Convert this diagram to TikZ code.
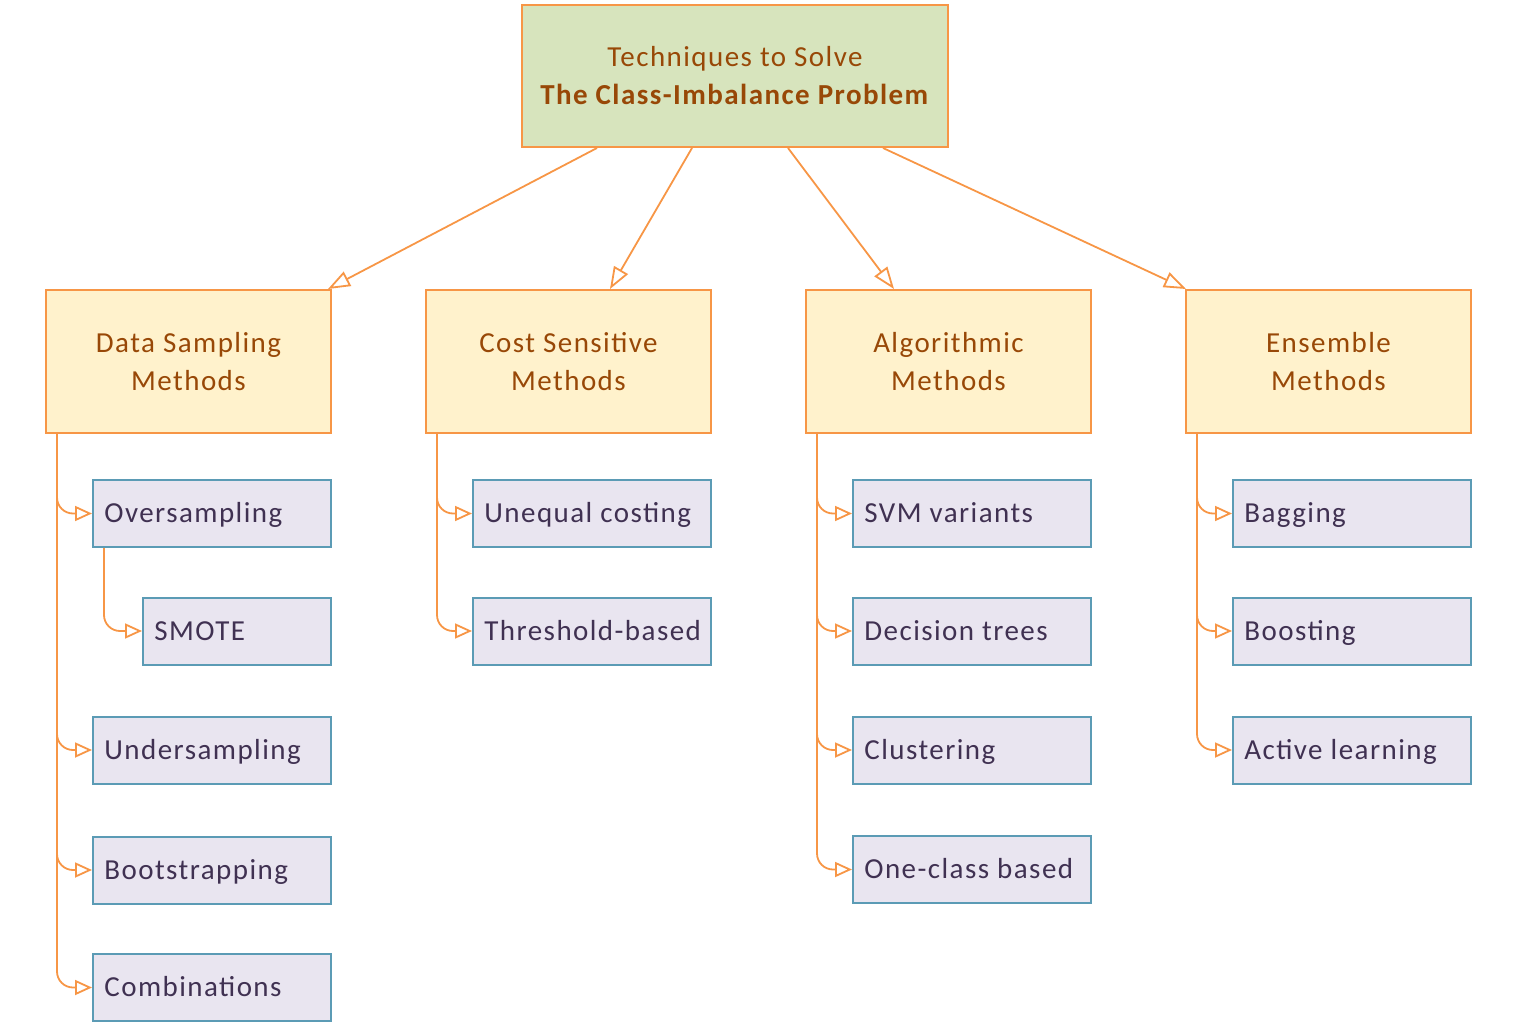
\documentclass[tikz,border=0pt]{standalone}
\usepackage{fontspec}
\setmainfont{Carlito}[LetterSpace=5]
\usetikzlibrary{arrows.meta,calc}
\definecolor{edgeor}{HTML}{F79646}
\definecolor{topfill}{HTML}{D7E4BD}
\definecolor{midfill}{HTML}{FFF2CC}
\definecolor{leaffill}{HTML}{E9E5F0}
\definecolor{leafedge}{HTML}{5B9BB5}
\definecolor{browntext}{HTML}{984807}
\definecolor{leaftext}{HTML}{403152}
\tikzset{
  topbox/.style={draw=edgeor, line width=1pt, fill=topfill, minimum width=213pt, minimum height=71pt,
    inner sep=0pt, align=center, text=browntext, font=\fontsize{14.5}{19}\selectfont},
  midbox/.style={draw=edgeor, line width=1pt, fill=midfill, minimum width=142.5pt, minimum height=71.5pt,
    inner sep=0pt, align=center, text=browntext, font=\fontsize{14.5}{19}\selectfont},
  leafbox/.style={draw=leafedge, line width=1pt, fill=leaffill, minimum width=119pt, minimum height=33.5pt,
    inner sep=0pt},
  leaflabel/.style={anchor=base west, inner sep=0pt, text=leaftext, font=\fontsize{14.5}{17}\selectfont},
  conn/.style={draw=edgeor, line width=0.9pt},
  toparrow/.style={conn, -{Triangle[open, length=11pt, width=8pt, fill=white]}},
  leafarrow/.style={conn, rounded corners=8pt, -{Triangle[open, length=8.5pt, width=7.5pt, fill=white]}}
}
\begin{document}
\begin{tikzpicture}[x=0.5pt, y=-0.5pt]
\useasboundingbox (0,0) rectangle (1536,1027);
% top
\node[topbox] (top) at (735,76) {Techniques to Solve\\\textbf{The Class-Imbalance Problem}};
% level 2
\node[midbox] (ds) at (188.5,361.5) {Data Sampling\\Methods};
\node[midbox] (cs) at (568.5,361.5) {Cost Sensitive\\Methods};
\node[midbox] (al) at (948.5,361.5) {Algorithmic\\Methods};
\node[midbox] (en) at (1328.5,361.5) {Ensemble\\Methods};
% leaves (text left aligned)
\newcommand{\leaf}[4]{\node[leafbox, minimum width=#3] (#1) at #2 {};
  \node[leaflabel] (#1t) at ($(#1.west)+(12,9)$) {#4};}
\leaf{ov}{(212,513.5)}{119pt}{Oversampling}
\leaf{sm}{(237,631)}{94pt}{SMOTE}
\leaf{un}{(212,750)}{119pt}{Undersampling}
\leaf{bo}{(212,870)}{119pt}{Bootstrapping}
\leaf{co}{(212,987.5)}{119pt}{Combinations}
\leaf{uc}{(592,513.5)}{119pt}{Unequal costing}
\leaf{th}{(592,631)}{119pt}{Threshold-based}
\leaf{sv}{(972,513.5)}{119pt}{SVM variants}
\leaf{dt}{(972,631)}{119pt}{Decision trees}
\leaf{cl}{(972,750)}{119pt}{Clustering}
\leaf{oc}{(972,869.5)}{119pt}{One-class based}
\leaf{bg}{(1352,513.5)}{119pt}{Bagging}
\leaf{bs}{(1352,631)}{119pt}{Boosting}
\leaf{ac}{(1352,750)}{119pt}{Active learning}
% top connectors
\draw[toparrow] ($(top.south west)+(76,0)$) -- ($(ds.north east)+(-4,0)$);
\draw[toparrow] ($(top.south west)+(171,0)$) -- ($(cs.north west)+(185,0)$);
\draw[toparrow] ($(top.south west)+(267,0)$) -- ($(al.north west)+(89,0)$);
\draw[toparrow] ($(top.south west)+(362,0)$) -- ($(en.north west)+(1,0)$);
% tree connectors
\foreach \p/\c in {ds/ov, ds/un, ds/bo, ds/co, ov/sm, cs/uc, cs/th, al/sv, al/dt, al/cl, al/oc, en/bg, en/bs, en/ac}
  \draw[leafarrow] ($(\p.south west)+(12,0)$) |- (\c.west);
\end{tikzpicture}
\end{document}
